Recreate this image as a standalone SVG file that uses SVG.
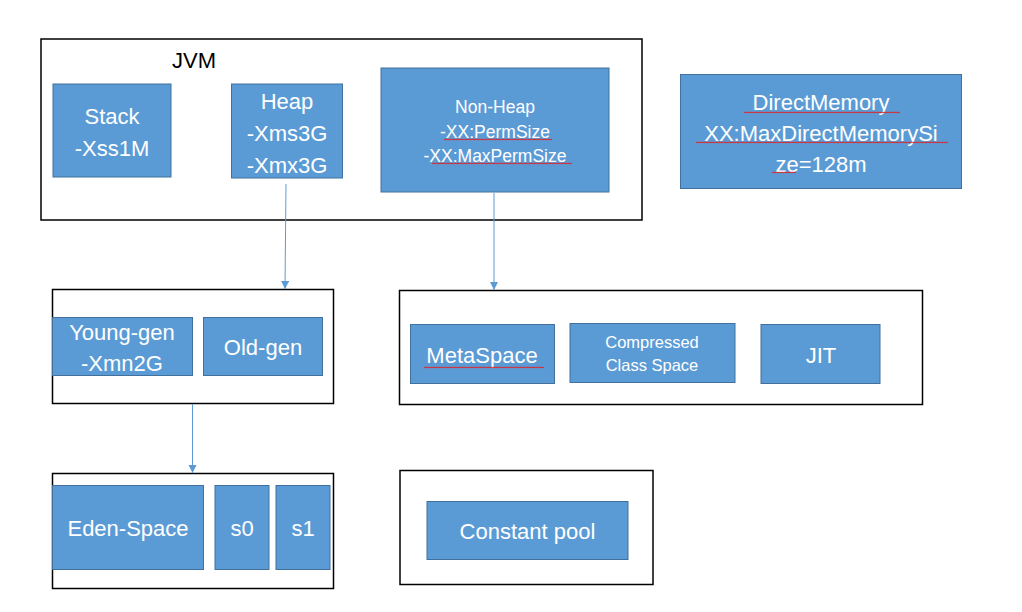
<svg xmlns="http://www.w3.org/2000/svg" width="1022" height="612" viewBox="0 0 1022 612">
<style>
.frame{fill:#fff;stroke:#000;stroke-width:1.5}
.box{fill:#5B9BD5;stroke:#41719C;stroke-width:1}
.t{font-family:"Liberation Sans",Arial,sans-serif;fill:#fff;text-anchor:middle;font-size:22px}
.s{font-size:17.5px}
.c{font-size:16.5px}
.k{fill:#000;text-anchor:start}
.conn{stroke:#5B9BD5;stroke-width:1;fill:none}
</style>
<defs>
<marker id="arr" markerUnits="userSpaceOnUse" markerWidth="9" markerHeight="9" refX="8" refY="4" orient="auto">
<path d="M0,0 L8,4 L0,8 Z" fill="#5B9BD5"/>
</marker>
<pattern id="wave" patternUnits="userSpaceOnUse" x="0" y="0" width="4" height="3">
<path d="M0,2.2 L1,0.8 L2,2.2 L3,0.8 L4,2.2" stroke="#E02020" stroke-width="0.8" fill="none"/>
</pattern>
</defs>
<rect width="1022" height="612" fill="#fff"/>

<g id="jvm">
<rect class="frame" x="41" y="39" width="601" height="181"/>
<text class="t k" x="172" y="68">JVM</text>
</g>
<g id="stack">
<rect class="box" x="53" y="84" width="118" height="93"/>
<text class="t" x="112" y="124">Stack</text>
<text class="t" x="112" y="156">-Xss1M</text>
</g>
<g id="heap">
<rect class="box" x="231.5" y="84" width="111" height="94"/>
<text class="t" x="287" y="109">Heap</text>
<text class="t" x="287" y="141">-Xms3G</text>
<text class="t" x="287" y="173">-Xmx3G</text>
</g>
<g id="nonheap">
<rect class="box" x="381" y="68" width="228" height="124"/>
<text class="t s" x="495" y="113">Non-Heap</text>
<text class="t s" x="495" y="137.5">-XX:PermSize</text>
<text class="t s" x="495" y="162">-XX:MaxPermSize</text>
</g>
<g id="directmemory">
<rect class="box" x="680.5" y="74.5" width="281" height="114"/>
<text class="t" x="821" y="110">DirectMemory</text>
<text class="t" x="821" y="141">XX:MaxDirectMemorySi</text>
<text class="t" x="821" y="172">ze=128m</text>
</g>

<g id="heapgen">
<rect class="frame" x="52.5" y="289.5" width="281" height="114"/>
</g>
<g id="younggen">
<rect class="box" x="52.5" y="317.5" width="140" height="58"/>
<text class="t" x="122" y="340">Young-gen</text>
<text class="t" x="122" y="371">-Xmn2G</text>
</g>
<g id="oldgen">
<rect class="box" x="203.5" y="317.5" width="119" height="58"/>
<text class="t" x="263" y="355">Old-gen</text>
</g>

<g id="nonheapgen">
<rect class="frame" x="399.5" y="290.5" width="523" height="114"/>
</g>
<g id="metaspace">
<rect class="box" x="410.5" y="324.5" width="144" height="59"/>
<text class="t" x="482" y="363">MetaSpace</text>
</g>
<g id="compressed">
<rect class="box" x="570" y="323.5" width="165" height="59"/>
<text class="t c" x="652" y="347.5">Compressed</text>
<text class="t c" x="652" y="371">Class Space</text>
</g>
<g id="jit">
<rect class="box" x="761" y="324.5" width="119" height="59"/>
<text class="t" x="821" y="363">JIT</text>
</g>

<g id="younggroup">
<rect class="frame" x="52.5" y="473.5" width="281" height="115"/>
</g>
<g id="eden">
<rect class="box" x="52.5" y="485.5" width="151" height="84"/>
<text class="t" x="128" y="536">Eden-Space</text>
</g>
<g id="s0">
<rect class="box" x="215" y="485.5" width="54" height="84"/>
<text class="t" x="242" y="536">s0</text>
</g>
<g id="s1">
<rect class="box" x="276" y="485.5" width="54" height="84"/>
<text class="t" x="303" y="536">s1</text>
</g>

<g id="poolgroup">
<rect class="frame" x="400" y="470.5" width="253" height="114"/>
</g>
<g id="constantpool">
<rect class="box" x="427" y="501.5" width="201" height="58"/>
<text class="t" x="527.5" y="539">Constant pool</text>
</g>

<g id="spellcheck">
<rect x="444" y="138" width="108" height="3" fill="url(#wave)"/>
<rect x="432" y="162" width="140" height="3" fill="url(#wave)"/>
<rect x="744" y="111" width="156" height="3" fill="url(#wave)"/>
<rect x="696" y="141" width="252" height="3" fill="url(#wave)"/>
<rect x="772" y="171" width="24" height="3" fill="url(#wave)"/>
<rect x="424" y="366" width="120" height="3" fill="url(#wave)"/>
</g>

<g id="connectors">
<line class="conn" x1="286" y1="184" x2="285" y2="289" marker-end="url(#arr)"/>
<line class="conn" x1="494" y1="193" x2="494" y2="290" marker-end="url(#arr)"/>
<line class="conn" x1="192.5" y1="404" x2="192.5" y2="473" marker-end="url(#arr)"/>
</g>
</svg>
